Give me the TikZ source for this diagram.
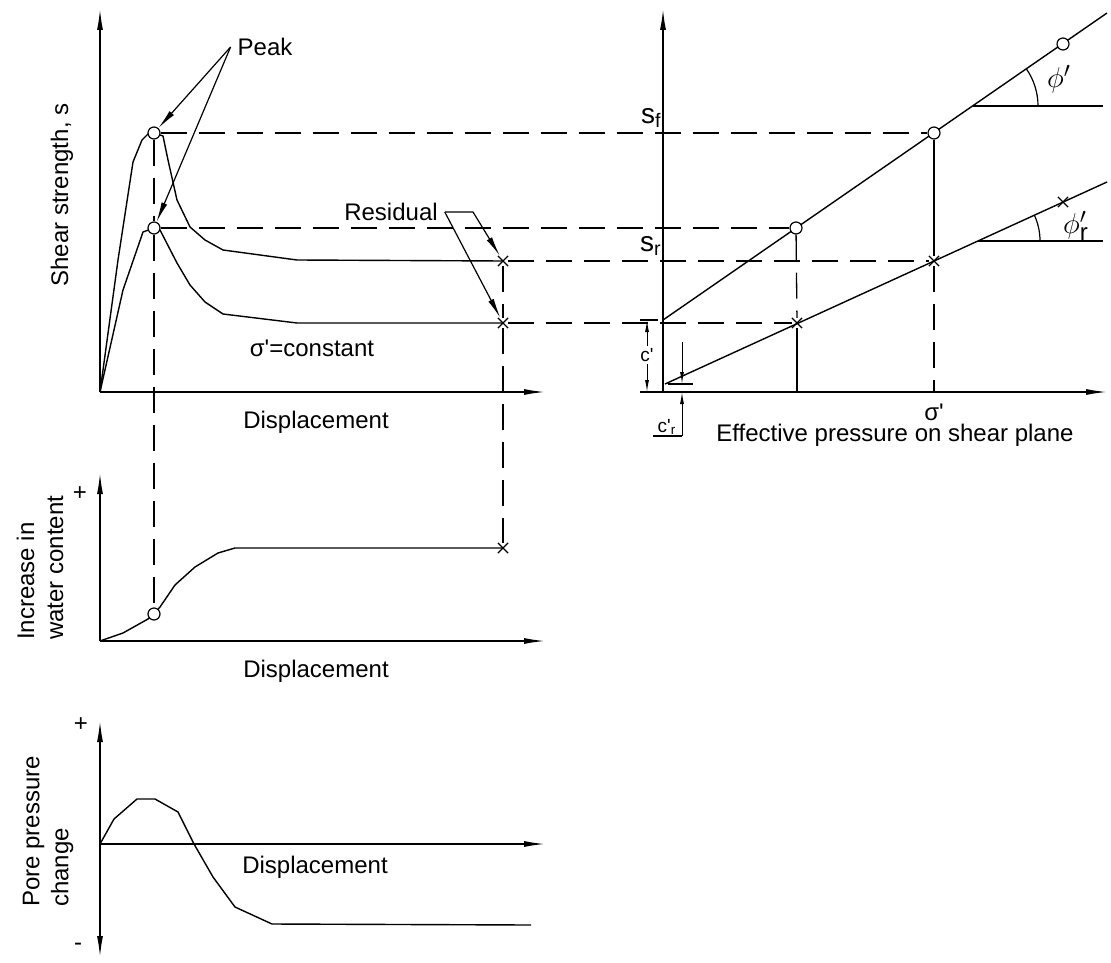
\documentclass[tikz,border=0pt]{standalone}
\usepackage{fontspec}
\setmainfont{Liberation Sans}
\usetikzlibrary{arrows.meta,shapes.misc}

\begin{document}
\begin{tikzpicture}[x=0.5pt, y=-0.5pt,
    every node/.style={font=\fontsize{12}{14.5}\selectfont},
    small/.style={font=\fontsize{9.5}{11}\selectfont, inner sep=1pt},
    ax/.style={line width=0.9pt, -{Latex[length=11pt,width=3pt]}},
    axx/.style={line width=0.9pt, {Latex[length=11pt,width=3pt]}-{Latex[length=11pt,width=3pt]}},
    crv/.style={line width=0.7pt},
    thn/.style={line width=0.6pt},
    dsh/.style={line width=0.65pt, dash pattern=on 13pt off 6pt},
    ptc/.style={circle, draw, line width=0.6pt, fill=white, inner sep=0pt, minimum size=6pt},
    ptx/.style={cross out, draw, line width=0.6pt, inner sep=0pt, minimum size=4.5pt},
    lead/.style={line width=0.6pt, -{Latex[length=10pt,width=3pt]}},
    dim/.style={line width=0.5pt, -{Latex[length=6pt,width=2pt]}}]

        \useasboundingbox (0,0) rectangle (1111,962);

        %
        \coordinate (O1) at (100,392);
        \coordinate (O2) at (100,641);
        \coordinate (O3) at (100,844);
        \coordinate (O4) at (663,392);

        %
        \draw[ax] (O1) -- (100,8);
        \draw[ax] (O1) -- (546,392);
        \draw[crv] (O1) -- (118,260) -- (133,162) -- (142,140) -- (148,134) -- (154,133) -- (163,136) -- (168,160)
            -- (177,200) -- (190,227) -- (205,240) -- (223,250) -- (297,260) -- (503,261);
        \draw[crv] (O1) -- (123,290) -- (143,232) -- (154,228) -- (160,230) -- (177,263) -- (190,285)
            -- (205,302) -- (223,314) -- (297,323) -- (503,323);

        %
        \draw[ax] (O2) -- (100,472);
        \draw[ax] (O2) -- (546,641);
        \draw[crv] (O2) -- (123,633) -- (148,619) -- (154,614) -- (160,607) -- (175,585) -- (195,567)
            -- (218,553) -- (235,548) -- (503,548);

        %
        \draw[axx] (100,958) -- (100,720);
        \draw[ax] (O3) -- (546,844);
        \draw[crv] (O3) -- (114,819) -- (137,799) -- (155,799) -- (178,812) -- (194,844) -- (213,877)
            -- (235,907) -- (272,924) -- (531,925);

        %
        \draw[ax] (O4) -- (663,8);
        \draw[ax] (640,392) -- (1108,392);
        \draw[crv] (663,320) -- (1107,13);
        \draw[crv] (665,384) -- (1107,182);

        %
        \node[ptc] (pk1) at (154,133) {};
        \node[ptc] (pk2) at (154,228) {};
        \node[ptx] (rs1) at (503,261) {};
        \node[ptx] (rs2) at (503,323) {};
        \node[ptc] (wc1) at (154,614) {};
        \node[ptx] (wc2) at (503,548) {};
        \node[ptc] (ef1) at (796,228) {};
        \node[ptc] (ef2) at (934,133) {};
        \node[ptc] (ef3) at (1063,44) {};
        \node[ptx] (er1) at (797,323) {};
        \node[ptx] (er2) at (934,261) {};
        \node[ptx] (er3) at (1063,202) {};

        %
        \draw[dsh] (pk1) -- (ef2);
        \draw[dsh] (pk2) -- (ef1);
        \draw[dsh] (rs1) -- (er2);
        \draw[dsh] (rs2) -- (er1);
        \draw[dsh] (pk1) -- (pk2);
        \draw[dsh] (pk2) -- (wc1);
        \draw[dsh] (rs1) -- (rs2);
        \draw[dsh] (rs2) -- (wc2);
        \draw[dsh] (ef1) -- (er1);
        \draw[crv] (er1) -- (er1 |- O4);
        \draw[crv] (ef2) -- (er2);
        \draw[dsh] (er2) -- (er2 |- O4);

        %
        \draw[thn] (973,106) -- (1103,106);
        \draw[thn] (1038,106) arc[start angle=0, end angle=-34.66, radius=65];
        \draw[thn] (978,241) -- (1103,241);
        \draw[thn] (1040,241) arc[start angle=0, end angle=-24.56, radius=62];

        %
        \node (pk) at (265,47) {Peak};
        \draw[lead] (pk.west) -- (pk1);
        \draw[lead] (pk.west) -- (pk2);
        \node (res) at (391,212) {Residual};
        \draw[lead] (res.east) -- (473,212) -- (rs1);
        \draw[lead] (res.east) -- (rs2);
        \node (cst) at (312,348) {σ\textquotesingle=constant};
        \node (dsp1) at (316,422) {Displacement};
        \node[rotate=90] (shr) at (62,195) {Shear strength, s};

        %
        \node (wpl) at (80,494) {+};
        \node[rotate=90, align=left, anchor=west] (wlb) at (40,647) {Increase in\\water content};
        \node (dsp2) at (316,671) {Displacement};

        %
        \node (ppl) at (81,725) {+};
        \node (pmi) at (78,947) {-};
        \node[rotate=90, align=left, anchor=west] (plb) at (48,914) {Pore pressure\\change};
        \node (dsp3) at (315,867) {Displacement};

        %
        \node[anchor=east, font=\fontsize{14}{16}\selectfont, inner sep=1pt] (sf) at (664,118) {s\textsubscript{f}};
        \node[anchor=east, font=\fontsize{14}{16}\selectfont, inner sep=1pt] (sr) at (664,246) {s\textsubscript{r}};
        \node[font=\fontsize{15}{17}\selectfont] (phf) at (1059,79) {$\phi'$};
        \node[font=\fontsize{15}{17}\selectfont] (phr) at (1076,226) {$\phi'_{\mbox{\fontsize{12}{14}\selectfont r}}$};
        \node (sig) at (934,412) {σ\textquotesingle};
        \node (eff) at (895,435) {Effective pressure on shear plane};

        %
        \draw[thn] (640,320) -- (658,320);
        \node[small] (cl) at (647,355) {c\textquotesingle};
        \draw[dim] (cl.north) -- (647,320);
        \draw[dim] (cl.south) -- (647,392);

        %
        \draw[thn] (668,384) -- (693,384);
        \draw[dim] (682,342) -- (682,384);
        \draw[dim] (682,436) -- (682,392);
        \draw[thn] (682,436) -- (653,436);
        \node[small] (crl) at (667,427) {c\textquotesingle\textsubscript{r}};

    \end{tikzpicture}
\end{document}
